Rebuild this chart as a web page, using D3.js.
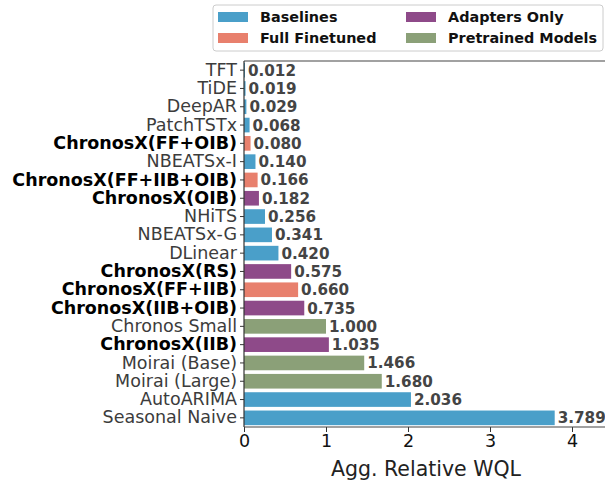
<!DOCTYPE html>
<html><head><meta charset="utf-8">
<script src="https://cdn.jsdelivr.net/npm/d3@7"></script>
<style>body{margin:0;background:#fff;} svg{display:block;}</style>
</head><body>
<svg id="c" width="605" height="484"></svg>
<script>
const models = ["TFT","TiDE","DeepAR","PatchTSTx","ChronosX(FF+OIB)","NBEATSx-I","ChronosX(FF+IIB+OIB)","ChronosX(OIB)","NHiTS","NBEATSx-G","DLinear","ChronosX(RS)","ChronosX(FF+IIB)","ChronosX(IIB+OIB)","Chronos Small","ChronosX(IIB)","Moirai (Base)","Moirai (Large)","AutoARIMA","Seasonal Naive"];
const values = [0.012,0.019,0.029,0.068,0.080,0.140,0.166,0.182,0.256,0.341,0.420,0.575,0.660,0.735,1.000,1.035,1.466,1.680,2.036,3.789];
const groups = ["Baselines","Baselines","Baselines","Baselines","Full Finetuned","Baselines","Full Finetuned","Adapters Only","Baselines","Baselines","Baselines","Adapters Only","Full Finetuned","Adapters Only","Pretrained Models","Adapters Only","Pretrained Models","Pretrained Models","Baselines","Baselines"];
const groupNames = ["Baselines","Full Finetuned","Adapters Only","Pretrained Models"];
const groupColors = ["#4a9fc9","#e8806d","#8e4a89","#8ba078"];
const xTicks = [0,1,2,3,4];

const svg = d3.select("#c");
const L = 244, T = 61, B = 427;
const x = d3.scaleLinear().domain([0,4.45]).range([L, L + 82*4.45]);
const y = d3.scaleBand().domain(models).range([T,B]).paddingInner(0.2).paddingOuter(0.1);
const color = d3.scaleOrdinal().domain(groupNames).range(groupColors);
const font = "DejaVu Sans, sans-serif";

const data = models.map((m,i)=>({m, v:values[i], g:groups[i]}));

svg.append("g").selectAll("rect").data(data).join("rect")
  .attr("x", x(0)).attr("y", d=>y(d.m))
  .attr("width", d=>x(d.v)-x(0)).attr("height", y.bandwidth())
  .attr("fill", d=>color(d.g));

svg.append("g").selectAll("text").data(data).join("text")
  .attr("x", d=>x(d.v)+3).attr("y", d=>y(d.m)+y.bandwidth()/2)
  .attr("dy","0.36em")
  .attr("font-family", font).attr("font-size", 15.2).attr("font-weight","bold")
  .attr("fill","#444").text(d=>d.v.toFixed(3));

// Axes
const yAxis = svg.append("g").attr("transform",`translate(${L},0)`)
  .call(d3.axisLeft(y).tickSize(4).tickPadding(3));
yAxis.select(".domain").remove();
yAxis.selectAll(".tick line").attr("stroke","#333");
yAxis.selectAll(".tick text").attr("font-family",font).attr("font-size",17.5)
  .attr("fill", d=>d.startsWith("ChronosX")?"#000":"#3c3c3c")
  .attr("font-weight", d=>d.startsWith("ChronosX")?"bold":"normal");

const xAxis = svg.append("g").attr("transform",`translate(0,${B})`)
  .call(d3.axisBottom(x).tickValues(xTicks).tickFormat(d3.format("d")).tickSize(5).tickPadding(3));
xAxis.select(".domain").remove();
xAxis.selectAll(".tick line").attr("stroke","#333");
xAxis.selectAll(".tick text").attr("font-family",font).attr("font-size",17.5).attr("fill","#111");

// spines
svg.append("line").attr("x1",L).attr("x2",x.range()[1]).attr("y1",T).attr("y2",T).attr("stroke","#444").attr("stroke-width",1.2);
svg.append("line").attr("x1",L).attr("x2",x.range()[1]).attr("y1",B).attr("y2",B).attr("stroke","#444").attr("stroke-width",1.2);
svg.append("line").attr("x1",L).attr("x2",L).attr("y1",T).attr("y2",B).attr("stroke","#333").attr("stroke-width",1.2);

svg.append("text").attr("x",426).attr("y",476).attr("text-anchor","middle")
  .attr("font-family",font).attr("font-size",20.5).attr("fill","#222").text("Agg. Relative WQL");

// legend
const lg = svg.append("g");
lg.append("rect").attr("x",213).attr("y",5).attr("width",390).attr("height",46).attr("rx",3)
  .attr("fill","#fff").attr("stroke","#ccc");
const pos = [[218,12],[218,33],[406,12],[406,33]];
const order = ["Baselines","Full Finetuned","Adapters Only","Pretrained Models"];
order.forEach((g,i)=>{
  const [px,py]=pos[i];
  lg.append("rect").attr("x",px).attr("y",py).attr("width",30).attr("height",10).attr("fill",color(g));
  lg.append("text").attr("x",px+42).attr("y",py+5).attr("dy","0.36em")
    .attr("font-family",font).attr("font-size",14.4).attr("font-weight","bold").attr("fill","#111").text(g);
});
</script>
</body></html>
